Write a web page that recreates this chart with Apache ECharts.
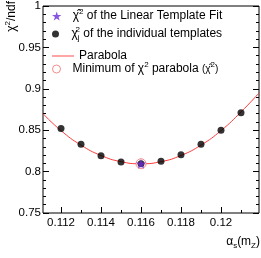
<!DOCTYPE html>
<html><head><meta charset="utf-8">
<script src="https://cdn.jsdelivr.net/npm/echarts@6/dist/echarts.min.js"></script>
<style>html,body{margin:0;padding:0;background:#fff}#c{width:261px;height:258px}</style>
</head><body><div id="c"></div>
<script>
// data
const templAlpha = [0.112, 0.113, 0.114, 0.115, 0.116, 0.117, 0.118, 0.119, 0.120, 0.121];
const templChi2  = [0.852, 0.833, 0.819, 0.8115, 0.8095, 0.8125, 0.8205, 0.833, 0.850, 0.871];
const fitAlpha = [0.116];
const fitChi2  = [0.8095];
const minAlpha = [0.116];
const minChi2  = [0.8095];
const parAlpha = [0.1111, 0.112, 0.113, 0.114, 0.115, 0.116, 0.117, 0.118, 0.119, 0.120, 0.121, 0.1219];
const parChi2  = [0.870, 0.8495, 0.832, 0.8195, 0.812, 0.8095, 0.812, 0.8195, 0.832, 0.8495, 0.872, 0.895];
const xMajorTicks = [0.112, 0.114, 0.116, 0.118, 0.120];
const xMinorTicks = [0.113, 0.115, 0.117, 0.119, 0.121];
const xTickLabels = ['0.112', '0.114', '0.116', '0.118', '0.12'];
const yTickLabels = ['0.75', '0.8', '0.85', '0.9', '0.95', '1'];

const FONT = 'Liberation Sans';
const starPath = 'path://M50,0 L61.8,36.2 L100,36.2 L69.1,58.8 L80.9,95.1 L50,72.7 L19.1,95.1 L30.9,58.8 L0,36.2 L38.2,36.2 Z';
const legendText = {
  fit:  '{b|χ̂}{sup|2}{b| of the Linear Template Fit}',
  tmpl: '{b|χ}{sub|j}{supb|2}{b| of the individual templates}',
  par:  '{b|Parabola}',
  min:  '{b|Minimum of χ}{sup|2}{b| parabola }{s|(χ̂}{sup|2}{s|)}'
};
const rich = {
  b: {fontFamily: FONT, fontSize: 12, color: '#000', lineHeight: 16, verticalAlign: 'middle'},
  s: {fontFamily: FONT, fontSize: 10, color: '#000', lineHeight: 16, verticalAlign: 'middle'},
  sup: {fontFamily: FONT, fontSize: 8, color: '#000', lineHeight: 16, verticalAlign: 'top'},
  supb: {fontFamily: FONT, fontSize: 8, color: '#000', lineHeight: 16, verticalAlign: 'top', padding: [0, 0, 0, -4]},
  sub: {fontFamily: FONT, fontSize: 8, color: '#000', lineHeight: 16, verticalAlign: 'bottom'}
};

function leg(name, top, icon, ih, extra) {
  return {
    orient: 'vertical', left: 52, top: top, itemWidth: 22, itemHeight: ih,
    selectedMode: false, padding: 0,
    data: [Object.assign({name: name, icon: icon}, extra || {})],
    formatter: n => legendText[n],
    textStyle: {rich: rich, fontFamily: FONT, fontSize: 12, height: 16}
  };
}

const chart = echarts.init(document.getElementById('c'), null, {renderer: 'canvas'});
const axisLab = {fontFamily: FONT, fontSize: 11.5, color: '#000'};
chart.setOption({
  animation: false,
  grid: {left: 43, right: 2, top: 6, bottom: 45, show: true, borderColor: '#000', borderWidth: 1, backgroundColor: 'transparent'},
  legend: [
    leg('fit', 8, starPath, 9),
    leg('tmpl', 26, 'circle', 7),
    leg('par', 50, 'path://M0,0 L24,0 L24,1 L0,1 Z', 9),
    leg('min', 61, 'circle', 8, {itemStyle: {color: '#fff', borderColor: '#f07070', borderWidth: 1}})
  ],
  xAxis: [{
    type: 'value', min: 0.1111, max: 0.1219,
    axisLine: {show: false}, splitLine: {show: false},
    axisTick: {show: true, inside: true, length: 6, lineStyle: {color: '#000'}, customValues: xMajorTicks},
    axisLabel: {customValues: xMajorTicks, formatter: v => xTickLabels[xMajorTicks.findIndex(t => Math.abs(t - v) < 1e-7)], margin: 4, ...axisLab, showMinLabel: true, showMaxLabel: true}
  }, {
    type: 'value', min: 0.1111, max: 0.1219, position: 'bottom',
    axisLine: {show: false}, splitLine: {show: false}, axisLabel: {show: false},
    axisTick: {show: true, inside: true, length: 3, lineStyle: {color: '#000'}, customValues: xMinorTicks}
  }],
  yAxis: [{
    type: 'value', min: 0.75, max: 1, interval: 0.05,
    axisLine: {show: false}, splitLine: {show: false},
    axisTick: {show: true, inside: true, length: 6, lineStyle: {color: '#000'}},
    minorTick: {show: true, splitNumber: 5, length: 3, lineStyle: {color: '#000'}},
    axisLabel: {formatter: (v, i) => yTickLabels[i], margin: 2, ...axisLab}
  }, {
    type: 'value', min: 0.75, max: 1, interval: 0.05, position: 'right',
    axisLine: {show: false}, splitLine: {show: false}, axisLabel: {show: false},
    axisTick: {show: true, inside: true, length: 6, lineStyle: {color: '#000'}},
    minorTick: {show: true, splitNumber: 5, length: 3, lineStyle: {color: '#000'}}
  }],
  series: [
    {name: 'par', type: 'line', smooth: true, symbol: 'none', data: parAlpha.map((x, i) => [x, parChi2[i]]),
     lineStyle: {color: '#ff3b3b', width: 1}, itemStyle: {color: '#ff3b3b'}, z: 2},
    {name: 'min', type: 'scatter', symbol: 'circle', symbolSize: 10, data: minAlpha.map((x, i) => [x, minChi2[i]]),
     itemStyle: {color: '#fff', borderColor: '#f07070', borderWidth: 1}, z: 3},
    {name: 'tmpl', type: 'scatter', symbol: 'circle', symbolSize: 7, data: templAlpha.map((x, i) => [x, templChi2[i]]),
     itemStyle: {color: '#000'}, z: 4},
    {name: 'fit', type: 'scatter', symbol: starPath, symbolSize: 10, data: fitAlpha.map((x, i) => [x, fitChi2[i]]),
     itemStyle: {color: '#6a2ad8'}, z: 5}
  ],
  graphic: [
    {type: 'text', x: 12, y: 1, rotation: Math.PI / 2,
     style: {text: '{b|χ}{sup|2}{b|/ndf}', align: 'right', verticalAlign: 'middle', rich: rich}},
    {type: 'text', x: 260, y: 242,
     style: {text: '{b|α}{sub|s}{b|(m}{sub|Z}{b|)}', align: 'right', verticalAlign: 'middle', rich: rich}}
  ]
});
</script></body></html>
